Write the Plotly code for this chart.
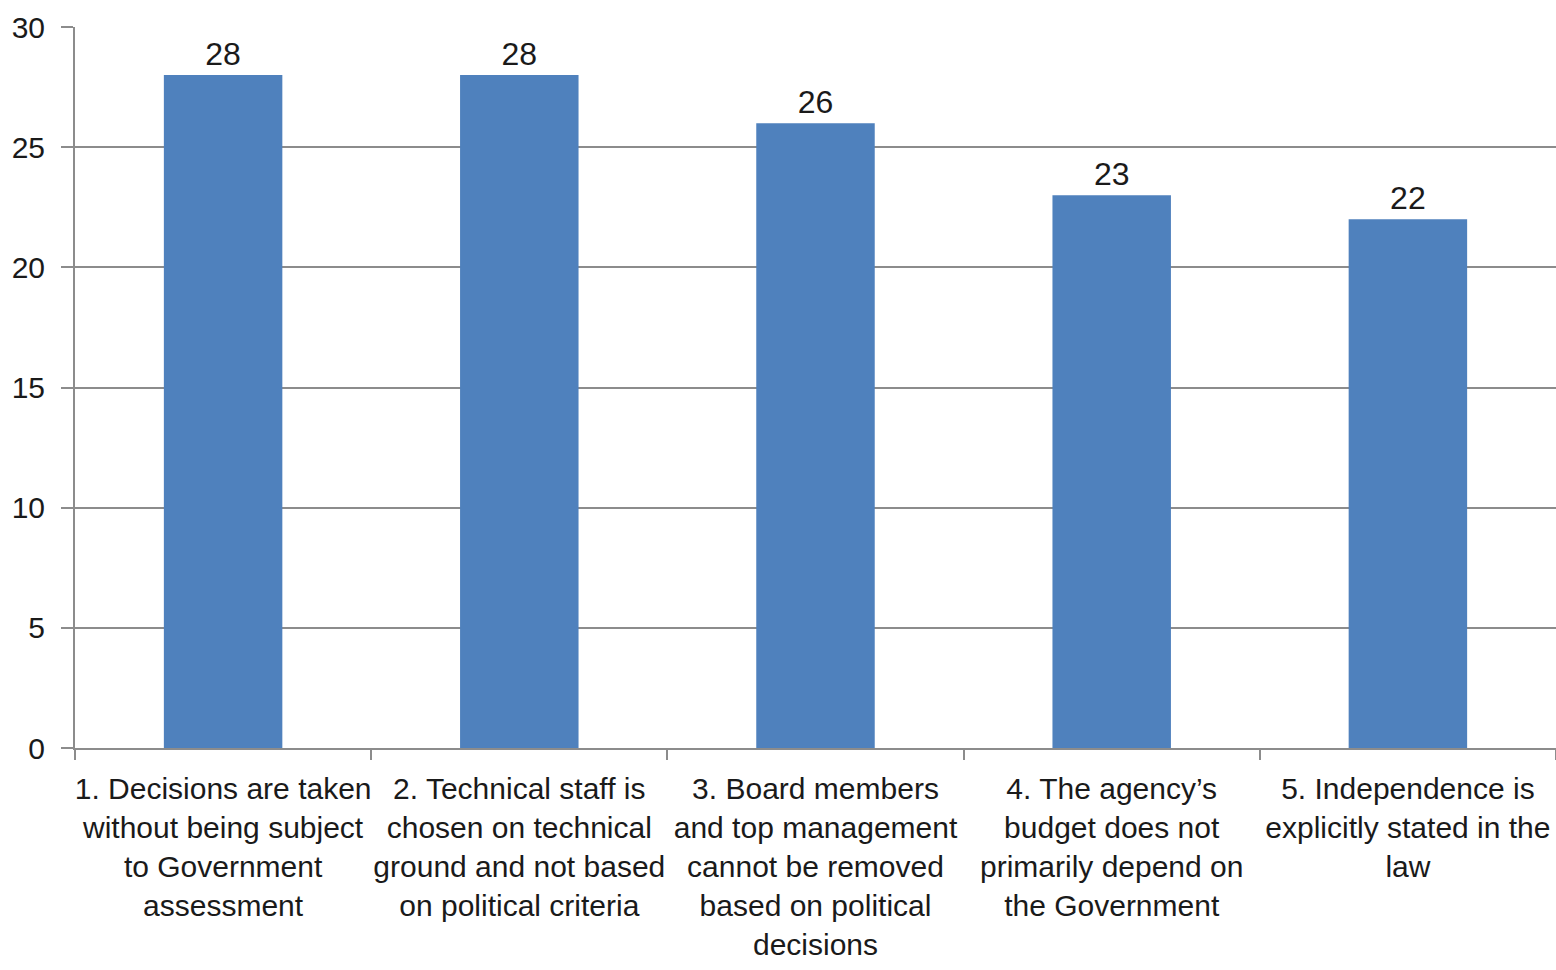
import plotly.graph_objects as go

categories = [
    "1. Decisions are taken<br>without being subject<br>to Government<br>assessment",
    "2. Technical staff is<br>chosen on technical<br>ground and not based<br>on political criteria",
    "3. Board members<br>and top management<br>cannot be removed<br>based on political<br>decisions",
    "4. The agency\u2019s<br>budget does not<br>primarily depend on<br>the Government",
    "5. Independence is<br>explicitly stated in the<br>law",
]
values = [28, 28, 26, 23, 22]

FONT = "Liberation Sans Narrow, Arial Narrow, Liberation Sans, Arial, sans-serif"
GRID = "#8c8c8c"
TEXT = "#1a1a1a"

fig = go.Figure(
    go.Bar(
        x=categories,
        y=values,
        text=[str(v) for v in values],
        textposition="outside",
        textfont=dict(family=FONT, size=32, color=TEXT),
        marker=dict(color="#4F81BD", line=dict(width=0)),
        cliponaxis=False,
    )
)

fig.update_layout(
    width=1556,
    height=970,
    margin=dict(l=75, r=0, t=27, b=222),
    paper_bgcolor="white",
    plot_bgcolor="white",
    bargap=0.6,
    showlegend=False,
    font=dict(family=FONT, size=30, color=TEXT),
)

fig.update_xaxes(
    showline=True,
    linecolor=GRID,
    linewidth=2,
    ticks="outside",
    tickson="boundaries",
    ticklen=10,
    tickcolor=GRID,
    tickwidth=2,
    tickangle=0,
    ticklabelstandoff=13,
    tickfont=dict(family=FONT, size=30, color=TEXT),
    showgrid=False,
)

fig.update_yaxes(
    range=[0, 30],
    dtick=5,
    showline=True,
    linecolor=GRID,
    linewidth=2,
    ticks="outside",
    ticklen=12,
    tickcolor=GRID,
    tickwidth=2,
    ticklabelstandoff=10,
    showgrid=True,
    gridcolor=GRID,
    gridwidth=1.5,
    zeroline=False,
    tickfont=dict(family=FONT, size=30, color=TEXT),
)

fig.write_html("out.html")
